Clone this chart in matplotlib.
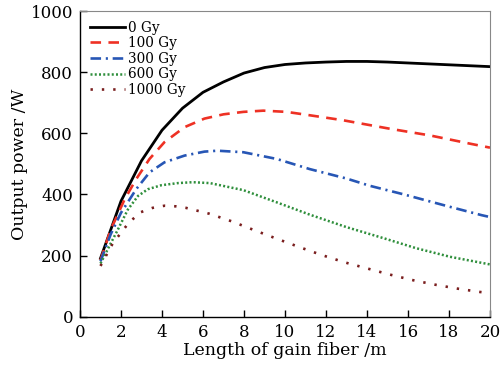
import matplotlib
matplotlib.use("Agg")
import matplotlib.pyplot as plt

# Data
x_0 = [1.0, 2.0, 3.0, 4.0, 5.0, 6.0, 7.0, 8.0, 9.0, 10.0, 11.0, 12.0, 13.0, 14.0, 15.0, 16.0, 17.0, 18.0, 19.0, 20.0]
p_0 = [191, 378, 510, 610, 682, 734, 768, 797, 815, 825, 830, 833, 835, 835, 833, 830, 827, 824, 821, 818]

x_100 = [1.0, 1.5, 2.17, 2.74, 3.39, 4.12, 5.1, 6.07, 7.0, 7.97, 8.94, 10.08, 11.2, 12.8, 15.1, 17.07, 19.1, 20.0]
p_100 = [185, 285, 383, 450, 516, 571, 620, 648, 662, 670, 674, 670, 659, 643, 615, 593, 565, 553]

x_300 = [1.0, 1.5, 2.0, 2.74, 3.39, 4.12, 5.1, 6.07, 6.7, 7.97, 9.6, 11.2, 13.0, 14.15, 15.8, 17.9, 19.6, 20.0]
p_300 = [181, 270, 340, 417, 472, 505, 527, 540, 543, 538, 516, 483, 452, 428, 400, 362, 332, 326]

x_600 = [1.0, 1.5, 1.84, 2.33, 2.83, 3.31, 3.96, 4.77, 5.5, 6.34, 7.97, 9.6, 11.2, 13.0, 14.8, 16.4, 18.05, 20.0]
p_600 = [174, 240, 284, 350, 395, 417, 430, 437, 440, 437, 414, 374, 334, 293, 257, 224, 196, 171]

x_1000 = [1.0, 1.6, 2.4, 2.97, 3.54, 4.12, 4.68, 5.17, 6.3, 7.4, 8.54, 9.6, 10.73, 11.78, 12.9, 14.0, 15.1, 16.2, 17.3, 18.4, 19.5, 20.0]
p_1000 = [166, 240, 309, 342, 356, 363, 361, 356, 337, 312, 282, 255, 227, 202, 178, 158, 138, 120, 105, 92, 81, 77]

labels = ["0 Gy", "100 Gy", "300 Gy", "600 Gy", "1000 Gy"]
xticks = [0, 2, 4, 6, 8, 10, 12, 14, 16, 18, 20]
yticks = [0, 200, 400, 600, 800, 1000]

plt.rcParams['font.family'] = ['DejaVu Serif']

fig = plt.figure(figsize=(5.01, 3.68), dpi=100)
ax = fig.add_axes([80/501, 51.3/368, 410/501, 305.7/368])

ax.plot(x_0, p_0, color='black', lw=2.0, label=labels[0])
ax.plot(x_100, p_100, color='#ee3124', lw=1.9, dashes=(4.0, 2.8), label=labels[1])
ax.plot(x_300, p_300, color='#2756b5', lw=1.9, dashes=(4.0, 1.8, 0.8, 1.8), label=labels[2])
ax.plot(x_600, p_600, color='#2f8f3c', lw=1.8, dashes=(0.8, 0.9), label=labels[3])
ax.plot(x_1000, p_1000, color='#7a1e1e', lw=1.9, dashes=(0.9, 3.4), label=labels[4])

ax.set_xlim(0, 20)
ax.set_ylim(0, 1000)
ax.set_xticks(xticks)
ax.set_yticks(yticks)
ax.tick_params(direction='in', length=5, width=1, labelsize=12, pad=5,
               top=False, right=False)
for s in ['top', 'right']:
    ax.spines[s].set_color('#888888')
for s in ['left', 'bottom']:
    ax.spines[s].set_color('black')
    ax.spines[s].set_linewidth(1.0)

ax.set_xlabel("Length of gain fiber /m", fontsize=12.5, labelpad=1)
ax.set_ylabel("Output power /W", fontsize=12.5, labelpad=2)

leg = ax.legend(loc='upper left', frameon=False, fontsize=9.8,
                handlelength=2.6, handletextpad=0.25, labelspacing=0.12,
                borderaxespad=0.3, bbox_to_anchor=(0.0, 1.0))

fig.savefig("out.png", dpi=100)
